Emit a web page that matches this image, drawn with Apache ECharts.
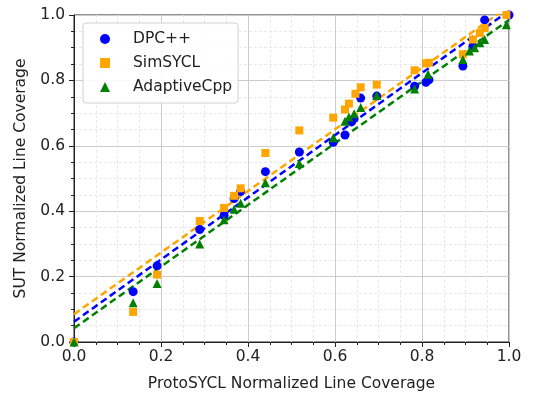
<!DOCTYPE html>
<html><head><meta charset="utf-8">
<script src="https://cdn.jsdelivr.net/npm/echarts@6/dist/echarts.min.js"></script>
<style>html,body{margin:0;padding:0;background:#fff}#c{width:548px;height:397px}</style>
</head><body><div id="c"></div>
<script>
const seriesNames = ['DPC++', 'SimSYCL', 'AdaptiveCpp'];
const tickLabels = ['0.0', '0.2', '0.4', '0.6', '0.8', '1.0'];

const dpcX = [0, 0.136, 0.191, 0.289, 0.345, 0.368, 0.383, 0.440, 0.518, 0.596, 0.623, 0.638, 0.644, 0.659, 0.696, 0.783, 0.809, 0.816, 0.894, 0.917, 0.944, 1.0];
const dpcY = [0, 0.154, 0.233, 0.344, 0.387, 0.439, 0.460, 0.521, 0.581, 0.611, 0.633, 0.673, 0.683, 0.746, 0.752, 0.782, 0.794, 0.802, 0.844, 0.905, 0.985, 1.0];

const simX = [0, 0.136, 0.191, 0.289, 0.345, 0.368, 0.383, 0.440, 0.518, 0.596, 0.623, 0.632, 0.647, 0.659, 0.696, 0.783, 0.809, 0.816, 0.894, 0.917, 0.933, 0.944, 0.994];
const simY = [0, 0.092, 0.206, 0.370, 0.410, 0.447, 0.470, 0.578, 0.647, 0.686, 0.711, 0.729, 0.759, 0.779, 0.787, 0.831, 0.852, 0.854, 0.880, 0.925, 0.945, 0.960, 1.0];

const acppX = [0, 0.136, 0.191, 0.289, 0.345, 0.368, 0.383, 0.440, 0.518, 0.596, 0.623, 0.632, 0.644, 0.659, 0.696, 0.783, 0.814, 0.894, 0.909, 0.921, 0.933, 0.944, 0.994];
const acppY = [0, 0.120, 0.179, 0.300, 0.374, 0.406, 0.424, 0.487, 0.546, 0.625, 0.675, 0.688, 0.698, 0.717, 0.754, 0.774, 0.819, 0.864, 0.890, 0.900, 0.915, 0.925, 0.970];

const trendX = [0, 1];
const dpcTrend = [0.062, 1.013];
const simTrend = [0.085, 1.027];
const acppTrend = [0.042, 0.985];

const colors = ['#0000ff', '#ffa500', '#008000'];
const symbols = ['circle', 'rect', 'triangle'];
const xs = [dpcX, simX, acppX];
const ys = [dpcY, simY, acppY];
const trends = [dpcTrend, simTrend, acppTrend];

const font = 'DejaVu Sans';
const fs = 15.5;
const zip = (a, b) => a.map((v, i) => [v, b[i]]);

const series = [];
for (let i = 0; i < 3; i++) {
  series.push({
    name: seriesNames[i] + ' trend', type: 'line', data: zip(trendX, trends[i]),
    showSymbol: false, symbol: 'none', clip: true, z: 3, silent: true,
    lineStyle: { color: colors[i], width: 2.5, type: [7, 4] }
  });
}
for (let i = 0; i < 3; i++) {
  series.push({
    name: seriesNames[i], type: 'scatter', data: zip(xs[i], ys[i]),
    symbol: symbols[i], symbolSize: i === 1 ? 8 : 9, clip: false, z: 4,
    itemStyle: { color: colors[i], opacity: 1 }
  });
}

const axisCommon = {
  type: 'value', min: 0, max: 1, interval: 0.2,
  nameLocation: 'middle',
  nameTextStyle: { fontFamily: font, fontSize: fs, color: '#222' },
  axisLine: { show: true, lineStyle: { color: '#222', width: 1 } },
  axisTick: { show: true, length: 5, lineStyle: { color: '#222' } },
  minorTick: { show: true, splitNumber: 4, length: 3, lineStyle: { color: '#222' } },
  splitLine: { show: true, lineStyle: { color: '#cccccc', width: 1 } },
  minorSplitLine: { show: true, lineStyle: { color: '#e8e8e8', width: 1, type: [3, 2] } },
  axisLabel: { fontFamily: font, fontSize: fs, color: '#222',
    formatter: v => tickLabels[Math.round(v / 0.2)] }
};

const chart = echarts.init(document.getElementById('c'));
chart.setOption({
  animation: false,
  backgroundColor: '#fff',
  grid: { left: 74, right: 39, top: 15, bottom: 51, show: true, borderColor: '#222', borderWidth: 1, backgroundColor: 'transparent' },
  xAxis: Object.assign({}, axisCommon, { name: 'ProtoSYCL Normalized Line Coverage', nameGap: 34,
    axisLabel: Object.assign({}, axisCommon.axisLabel, { margin: 7 }) }),
  yAxis: Object.assign({}, axisCommon, { name: 'SUT Normalized Line Coverage', nameGap: 40,
    axisLabel: Object.assign({}, axisCommon.axisLabel, { margin: 9 }) }),
  legend: {
    data: seriesNames.map((n, i) => ({ name: n, icon: symbols[i] })),
    orient: 'vertical', left: 83, top: 23,
    padding: [8, 6, 8, 17],
    itemWidth: 10, itemHeight: 10, itemGap: 8,
    backgroundColor: 'rgba(255,255,255,0.85)', borderColor: '#d0d0d0', borderWidth: 1, borderRadius: 3,
    textStyle: { fontFamily: font, fontSize: fs, color: '#222', padding: [0, 0, 0, 18] }
  },
  series: series
});
</script></body></html>
